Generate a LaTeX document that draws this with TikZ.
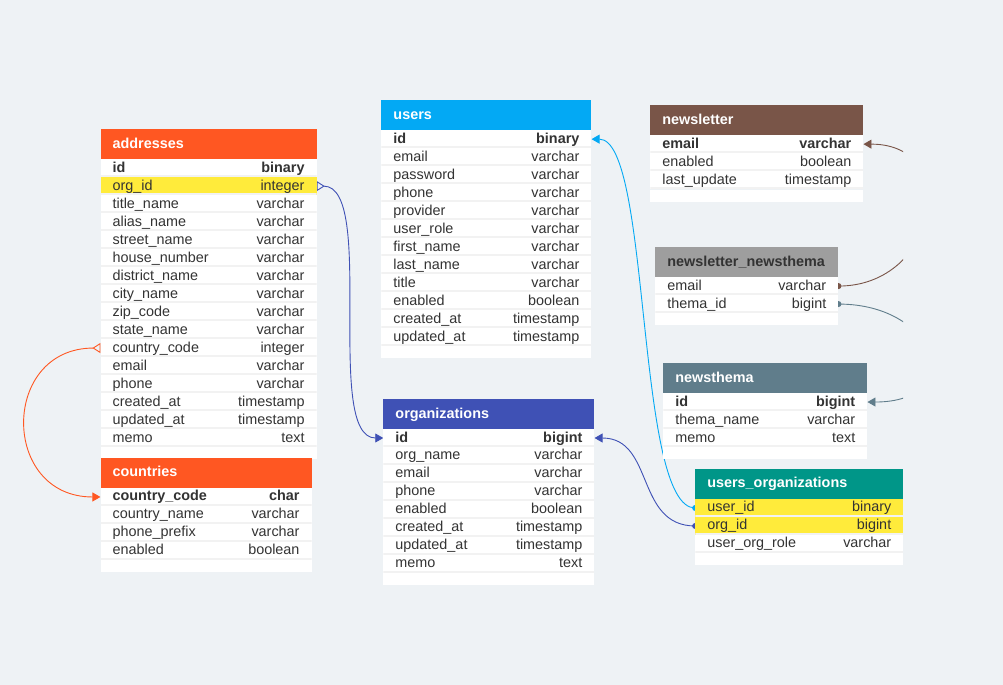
\documentclass[tikz,border=0pt]{standalone}
\usepackage{fontspec}
\setmainfont{Liberation Sans}
\usetikzlibrary{arrows.meta}
\definecolor{pagebg}{HTML}{EEF2F5}
\definecolor{txt}{HTML}{333333}
\definecolor{sepcol}{HTML}{F2F2F2}
\definecolor{hl}{HTML}{FFEB3B}
\definecolor{addrcol}{HTML}{FF5722}
\definecolor{usercol}{HTML}{03A9F4}
\definecolor{orgcol}{HTML}{3F51B5}
\definecolor{nlcol}{HTML}{795548}
\definecolor{nntcol}{HTML}{9E9E9E}
\definecolor{ntcol}{HTML}{607D8B}
\definecolor{uocol}{HTML}{009688}
\pgfdeclarelayer{back}
\pgfsetlayers{back,main}
\tikzset{
  head/.style={anchor=north west, minimum height=30pt, inner xsep=12pt, inner ysep=0pt, text=white, align=left, text height=11pt, text depth=3pt, font=\fontsize{14.4}{16}\selectfont\bfseries},
  row/.style={anchor=north west, minimum height=18pt, inner xsep=12pt, inner ysep=0pt, fill=white, text=txt, align=left, text height=11pt, text depth=3pt, font=\fontsize{14.4}{16}\selectfont,
    path picture={\fill[sepcol] ([yshift=2pt]path picture bounding box.south west) rectangle (path picture bounding box.south east);}},
  foot/.style={anchor=north west, minimum height=12pt, inner sep=0pt, fill=white},
  pk/.style={font=\fontsize{14.4}{16}\selectfont\bfseries},
  fk/.style={fill=hl},
  co/.style={},
  link/.style={draw=#1, line width=0.9pt},
  one/.tip={Triangle[length=8pt,width=9pt]},
  many/.tip={Triangle[open,reversed,length=8pt,width=10pt]},
}

\begin{document}
\begin{tikzpicture}[x=1pt,y=-1pt]
  \begin{pgfonlayer}{back}
    \fill[pagebg] (0,0) rectangle (1003,685);
  \end{pgfonlayer}

  % addresses
  \node[head, fill=addrcol, text width=192pt] (addresses) at (100,129) {addresses};
  \foreach \f/\t/\s [count=\i] in {id/binary/pk, org\_id/integer/fk, title\_name/varchar/co, alias\_name/varchar/co, street\_name/varchar/co, house\_number/varchar/co, district\_name/varchar/co, city\_name/varchar/co, zip\_code/varchar/co, state\_name/varchar/co, country\_code/integer/co, email/varchar/co, phone/varchar/co, created\_at/timestamp/co, updated\_at/timestamp/co, memo/text/co}
    \node[row, \s, text width=192pt] (addresses\i) at (100,{159+18*(\i-1)}) {\f\hfill\t};
  \node[foot, minimum width=216pt] (addressesend) at (addresses16.south west) {};

  % countries
  \node[head, fill=addrcol, text width=187pt] (countries) at (100,458) {countries};
  \foreach \f/\t/\s [count=\i] in {country\_code/char/pk, country\_name/varchar/co, phone\_prefix/varchar/co, enabled/boolean/co}
    \node[row, \s, text width=187pt] (countries\i) at (100,{488+18*(\i-1)}) {\f\hfill\t};
  \node[foot, minimum width=211pt] (countriesend) at (countries4.south west) {};

  % users
  \node[head, fill=usercol, text width=186pt] (users) at (381,100) {users};
  \foreach \f/\t/\s [count=\i] in {id/binary/pk, email/varchar/co, password/varchar/co, phone/varchar/co, provider/varchar/co, user\_role/varchar/co, first\_name/varchar/co, last\_name/varchar/co, title/varchar/co, enabled/boolean/co, created\_at/timestamp/co, updated\_at/timestamp/co}
    \node[row, \s, text width=186pt] (users\i) at (381,{130+18*(\i-1)}) {\f\hfill\t};
  \node[foot, minimum width=210pt] (usersend) at (users12.south west) {};

  % organizations
  \node[head, fill=orgcol, text width=187pt] (organizations) at (383,399) {organizations};
  \foreach \f/\t/\s [count=\i] in {id/bigint/pk, org\_name/varchar/co, email/varchar/co, phone/varchar/co, enabled/boolean/co, created\_at/timestamp/co, updated\_at/timestamp/co, memo/text/co}
    \node[row, \s, text width=187pt] (organizations\i) at (383,{429+18*(\i-1)}) {\f\hfill\t};
  \node[foot, minimum width=211pt] (organizationsend) at (organizations8.south west) {};

  % newsletter
  \node[head, fill=nlcol, text width=189pt] (newsletter) at (650,105) {newsletter};
  \foreach \f/\t/\s [count=\i] in {email/varchar/pk, enabled/boolean/co, last\_update/timestamp/co}
    \node[row, \s, text width=189pt] (newsletter\i) at (650,{135+18*(\i-1)}) {\f\hfill\t};
  \node[foot, minimum width=213pt] (newsletterend) at (newsletter3.south west) {};

  % newsletter_newsthema
  \node[head, fill=nntcol, text=txt, text width=159pt] (nlnt) at (655,247) {newsletter\_newsthema};
  \foreach \f/\t/\s [count=\i] in {email/varchar/co, thema\_id/bigint/co}
    \node[row, \s, text width=159pt] (nlnt\i) at (655,{277+18*(\i-1)}) {\f\hfill\t};
  \node[foot, minimum width=183pt] (nlntend) at (nlnt2.south west) {};

  % newsthema
  \node[head, fill=ntcol, text width=180pt] (newsthema) at (663,363) {newsthema};
  \foreach \f/\t/\s [count=\i] in {id/bigint/pk, thema\_name/varchar/co, memo/text/co}
    \node[row, \s, text width=180pt] (newsthema\i) at (663,{393+18*(\i-1)}) {\f\hfill\t};
  \node[foot, minimum width=204pt] (newsthemaend) at (newsthema3.south west) {};

  % users_organizations
  \node[head, fill=uocol, text width=184pt] (usersorgs) at (695,469) {users\_organizations};
  \foreach \f/\t/\s [count=\i] in {user\_id/binary/fk, org\_id/bigint/fk, user\_org\_role/varchar/co}
    \node[row, \s, text width=184pt] (usersorgs\i) at (695,{499+18*(\i-1)}) {\f\hfill\t};
  \node[foot, minimum width=208pt] (usersorgsend) at (usersorgs3.south west) {};

  % relations
  \begin{pgfonlayer}{back}
    \draw[link=orgcol, {many}-{one}] (addresses2.east) .. controls +(60,0) and +(-60,0) .. (organizations1.west);
    \draw[link=addrcol, {many}-{one}] (addresses11.west) .. controls +(-100,0) and +(-100,0) .. (countries1.west);
    \draw[link=usercol, {one}-] (users1.east) .. controls +(60,0) and +(-60,0) .. (usersorgs1.west);
    \fill[usercol] (usersorgs1.west) circle (3pt);
    \draw[link=orgcol, {one}-] (organizations1.east) .. controls +(60,0) and +(-60,0) .. (usersorgs2.west);
    \fill[orgcol] (usersorgs2.west) circle (3pt);
    \begin{scope}
      \clip (0,0) rectangle (903,685);
      \draw[link=nlcol, -{one}] (nlnt1.east) .. controls +(100,0) and +(100,0) .. (newsletter1.east);
      \fill[nlcol] (nlnt1.east) circle (3pt);
      \draw[link=ntcol, -{one}] (nlnt2.east) .. controls +(100,0) and +(100,0) .. (newsthema1.east);
      \fill[ntcol] (nlnt2.east) circle (3pt);
    \end{scope}
  \end{pgfonlayer}
\end{tikzpicture}
\end{document}
